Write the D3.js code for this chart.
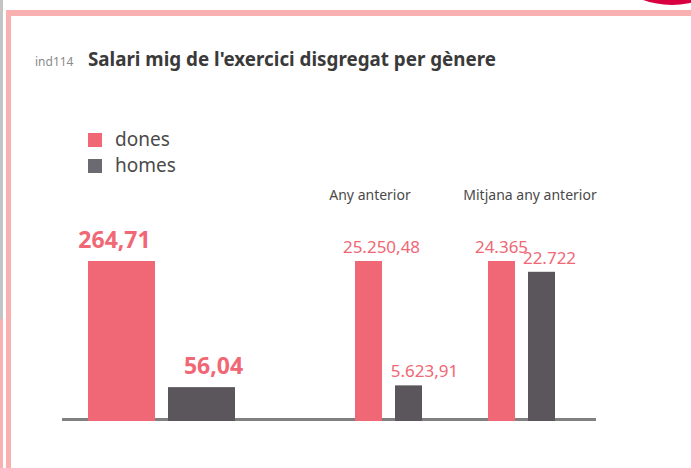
<!DOCTYPE html>
<html>
<head>
<meta charset="utf-8">
<script src="https://cdn.jsdelivr.net/npm/d3@7"></script>
<style>
  body { margin: 0; background: #fff; }
  text { font-family: "Noto Sans", sans-serif; }
</style>
</head>
<body>
<div class="chart"></div>
<script>
const groups = ["actual", "Any anterior", "Mitjana any anterior"]
const series = ["dones", "homes"]
const dones = [264.71, 25250.48, 24365]
const homes = [56.04, 5623.91, 22722]
const decimals = [2, 2, 0]

const colors = {
  pink: "#F06775",
  dark: "#5B565B",
  legendDark: "#6B6A70",
  border: "#F9B0B0",
  axis: "#808080",
  text: "#4A4A4A",
  title: "#3A3A3A"
}

const width = 691
const height = 468

const locale = d3.formatLocale({ decimal: ",", thousands: ".", grouping: [3], currency: ["", "€"] })

// layout of the three panels (left x of first bar, bar width, gap)
const panel = {
  "actual": { x: 88, w: 67, gap: 13, big: true },
  "Any anterior": { x: 355, w: 27, gap: 13, big: false, head: 370 },
  "Mitjana any anterior": { x: 488, w: 27, gap: 13, big: false, head: 530 }
}
// label nudges to follow the original
const labelShift = [[-7, 12], [13, 16], [0, 8]]

const data = groups.map((g, i) => ({ group: g, i, values: [dones[i], homes[i]] }))

const svg = d3.select(".chart").append("svg")
    .attr("width", width)
    .attr("height", height)

// frame
svg.append("rect").attr("x", 0).attr("y", 0).attr("width", 3).attr("height", 319).attr("fill", "#C4C4C4")
svg.append("rect").attr("x", 0).attr("y", 319).attr("width", 3).attr("height", height - 319).attr("fill", colors.border)
svg.append("rect").attr("x", 6).attr("y", 10).attr("width", 5).attr("height", height - 10).attr("fill", colors.border)
svg.append("rect").attr("x", 6).attr("y", 10).attr("width", width - 6).attr("height", 6).attr("fill", colors.border)
svg.append("circle").attr("cx", 672).attr("cy", -80).attr("r", 85).attr("fill", "#D8003E")

// title
svg.append("text")
    .attr("x", 35).attr("y", 66)
    .attr("font-size", 12)
    .attr("fill", "#8A8A8A")
    .text("ind114")
svg.append("text")
    .attr("x", 88).attr("y", 66)
    .attr("font-size", 20)
    .attr("font-weight", "bold")
    .attr("fill", colors.title)
    .attr("textLength", 408)
    .attr("lengthAdjust", "spacingAndGlyphs")
    .text("Salari mig de l'exercici disgregat per gènere")

// legend
const legend = svg.append("g")
  .selectAll("g")
  .data(series)
  .join("g")
    .attr("transform", (d, i) => `translate(88, ${133 + i * 26})`)
legend.append("rect")
    .attr("width", 14).attr("height", 14)
    .attr("fill", (d, i) => i == 0 ? colors.pink : colors.legendDark)
legend.append("text")
    .attr("x", 27).attr("y", 13)
    .attr("font-size", 19)
    .attr("fill", colors.text)
    .text(d => d)

// baseline
svg.append("line")
    .attr("x1", 62).attr("x2", 596)
    .attr("y1", 419.5).attr("y2", 419.5)
    .attr("stroke", colors.axis)
    .attr("stroke-width", 3)

const panels = svg.selectAll(".panel")
  .data(data)
  .join("g")
    .attr("class", "panel")

panels.each(function (d) {
  const p = panel[d.group]
  const g = d3.select(this)
  const y = d3.scaleLinear()
    .domain([0, d3.max(d.values)])
    .range([421, 261])
  const x = d3.scaleBand()
    .domain(series)
    .range([p.x, p.x + 2 * p.w + p.gap])
    .paddingInner(p.gap / (p.w + p.gap))
  const fmt = locale.format(`,.${decimals[d.i]}f`)

  if (p.head) {
    g.append("text")
        .attr("x", p.head).attr("y", 200)
        .attr("text-anchor", "middle")
        .attr("font-size", 14)
        .attr("fill", colors.text)
        .text(d.group)
  }

  g.selectAll("rect")
    .data(d.values)
    .join("rect")
      .attr("x", (v, j) => x(series[j]))
      .attr("y", v => y(v))
      .attr("width", x.bandwidth())
      .attr("height", v => y(0) - y(v))
      .attr("fill", (v, j) => j == 0 ? colors.pink : colors.dark)

  g.selectAll(".label")
    .data(d.values)
    .join("text")
      .attr("class", "label")
      .attr("x", (v, j) => x(series[j]) + x.bandwidth() / 2 + labelShift[d.i][j])
      .attr("y", v => y(v) - (p.big ? 13 : 8))
      .attr("text-anchor", "middle")
      .attr("font-size", p.big ? 23 : 17)
      .attr("font-weight", p.big ? "bold" : "normal")
      .attr("fill", colors.pink)
      .text(v => fmt(v))
})
</script>
</body>
</html>
